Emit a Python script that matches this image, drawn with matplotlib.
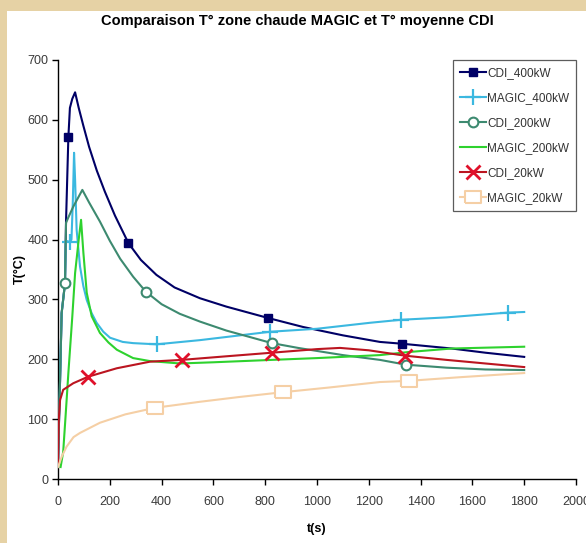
import matplotlib
matplotlib.use("Agg")
import matplotlib.pyplot as plt
from matplotlib.patches import Rectangle

plt.rcParams['font.family'] = ['Liberation Sans', 'DejaVu Sans']

# courbes : temps (s) et température (°C), marqueurs aux temps listés
t_cdi400 = [0, 8, 14, 27, 31, 40, 46, 55, 66, 80, 98, 120, 150, 181, 220, 272, 320, 380, 450, 548, 650, 811, 946, 1100, 1243, 1328, 1520, 1650, 1800]
T_cdi400 = [30, 166, 277, 327, 430, 571, 620, 635, 646, 620, 590, 555, 515, 480, 440, 394, 366, 341, 320, 302, 288, 269, 254, 240, 229, 226, 218, 211, 204]
m_cdi400 = [40, 272, 811, 1328]

t_magic400 = [0, 8, 14, 27, 30, 46, 52, 57, 62, 66, 72, 85, 98, 111, 130, 149, 175, 201, 250, 290, 381, 548, 819, 1000, 1205, 1324, 1500, 1737, 1800]
T_magic400 = [30, 166, 277, 327, 398, 396, 400, 460, 545, 500, 416, 355, 322, 299, 277, 261, 246, 236, 229, 227, 225, 232, 246, 251, 261, 266, 270, 278, 279]
m_magic400 = [46, 381, 819, 1324, 1737]

t_cdi200 = [0, 8, 14, 27, 31, 40, 59, 94, 120, 162, 200, 240, 290, 339, 400, 470, 548, 650, 826, 927, 1100, 1243, 1343, 1500, 1650, 1800]
T_cdi200 = [30, 166, 277, 327, 428, 437, 455, 483, 462, 430, 398, 368, 338, 313, 292, 276, 263, 248, 227, 219, 207, 199, 191, 186, 183, 182]
m_cdi200 = [27, 339, 826, 1343]

t_magic200 = [10, 20, 30, 40, 55, 66, 80, 89, 98, 111, 130, 162, 195, 227, 290, 355, 471, 600, 826, 1000, 1243, 1350, 1520, 1800]
T_magic200 = [20, 45, 110, 177, 270, 344, 400, 433, 378, 311, 272, 244, 228, 216, 202, 197, 193, 195, 199, 202, 207, 212, 218, 221]

t_cdi20 = [0, 3, 8, 20, 59, 117, 227, 355, 478, 650, 826, 1000, 1089, 1200, 1340, 1500, 1650, 1800]
T_cdi20 = [25, 100, 132, 149, 160, 171, 185, 196, 199, 205, 211, 217, 219, 215, 206, 199, 193, 187]
m_cdi20 = [117, 478, 826, 1340]

t_magic20 = [0, 15, 33, 60, 85, 162, 260, 375, 548, 700, 868, 1050, 1243, 1355, 1550, 1800]
T_magic20 = [20, 38, 54, 70, 77, 94, 108, 119, 129, 137, 145, 153, 162, 164, 170, 177]
m_magic20 = [375, 868, 1355]

fig = plt.figure(figsize=(5.86, 5.43), dpi=100)
fig.patch.set_facecolor('#E6D2A5')
fig.patches.append(Rectangle((7 / 586, 0), 1, 1 - 11 / 543, transform=fig.transFigure,
                             facecolor='white', edgecolor='none', zorder=-10))

ax = fig.add_axes([58 / 586, 1 - 479 / 543, 518 / 586, 419 / 543])
ax.set_facecolor('none')

rect_marker = [(-1.5, -1), (1.5, -1), (1.5, 1), (-1.5, 1), (-1.5, -1)]


def idx(ts, marks):
    return [ts.index(m) for m in marks]


lw = 1.5
ax.plot(t_cdi400, T_cdi400, color='#000066', lw=lw, marker='s', ms=6,
        markevery=idx(t_cdi400, m_cdi400), label='CDI_400kW', zorder=2)
ax.plot(t_magic400, T_magic400, color='#3BB8E0', lw=lw, marker='+', ms=12, mew=1.6,
        markevery=idx(t_magic400, m_magic400), label='MAGIC_400kW', zorder=3)
ax.plot(t_cdi200, T_cdi200, color='#3D8A70', lw=lw, marker='o', ms=7, mfc='white', mew=1.5,
        markevery=idx(t_cdi200, m_cdi200), label='CDI_200kW', zorder=4)
ax.plot(t_magic200, T_magic200, color='#2ED22E', lw=lw, label='MAGIC_200kW', zorder=5)
ax.plot(t_cdi20, T_cdi20, color='#BB1520', lw=lw, marker='x', ms=10, mew=2, mec='#E0102A',
        markevery=idx(t_cdi20, m_cdi20), label='CDI_20kW', zorder=6)
ax.plot(t_magic20, T_magic20, color='#F5CFA5', lw=lw, marker=rect_marker, ms=12, mfc='white', mew=1.5,
        markevery=idx(t_magic20, m_magic20), label='MAGIC_20kW', zorder=7)

ax.set_xlim(0, 2000)
ax.set_ylim(0, 700)
ax.set_xticks(range(0, 2001, 200))
ax.set_yticks(range(0, 701, 100))
for s in ['top', 'right']:
    ax.spines[s].set_visible(False)
for s in ['left', 'bottom']:
    ax.spines[s].set_linewidth(1.0)
ax.tick_params(axis='both', direction='out', length=4, width=1, labelsize=9, labelcolor='#3a3a3a', pad=3)
ax.tick_params(axis='x', pad=8)

ax.set_xlabel('t(s)', fontsize=9, fontweight='bold')
ax.xaxis.set_label_coords(0.5, -(523 - 479) / 419)
ax.set_ylabel('T(°C)', fontsize=9, fontweight='bold')
ax.yaxis.set_label_coords(-(58 - 26) / 518, 0.5)
fig.text(297 / 586, 1 - 21 / 543, 'Comparaison T° zone chaude MAGIC et T° moyenne CDI',
         ha='center', va='center', fontsize=10.5, fontweight='bold')

leg = ax.legend(loc='upper left', bbox_to_anchor=(453 / 586, 1 - 60 / 543), bbox_transform=fig.transFigure,
                fontsize=8.5, frameon=True, fancybox=False, edgecolor='#333333', handlelength=2.2,
                handletextpad=0.1, labelspacing=1.1, borderpad=0.6, borderaxespad=0)
leg.get_frame().set_linewidth(0.9)
for txt in leg.get_texts():
    txt.set_color('#333333')

fig.savefig('out.png', dpi=100)
